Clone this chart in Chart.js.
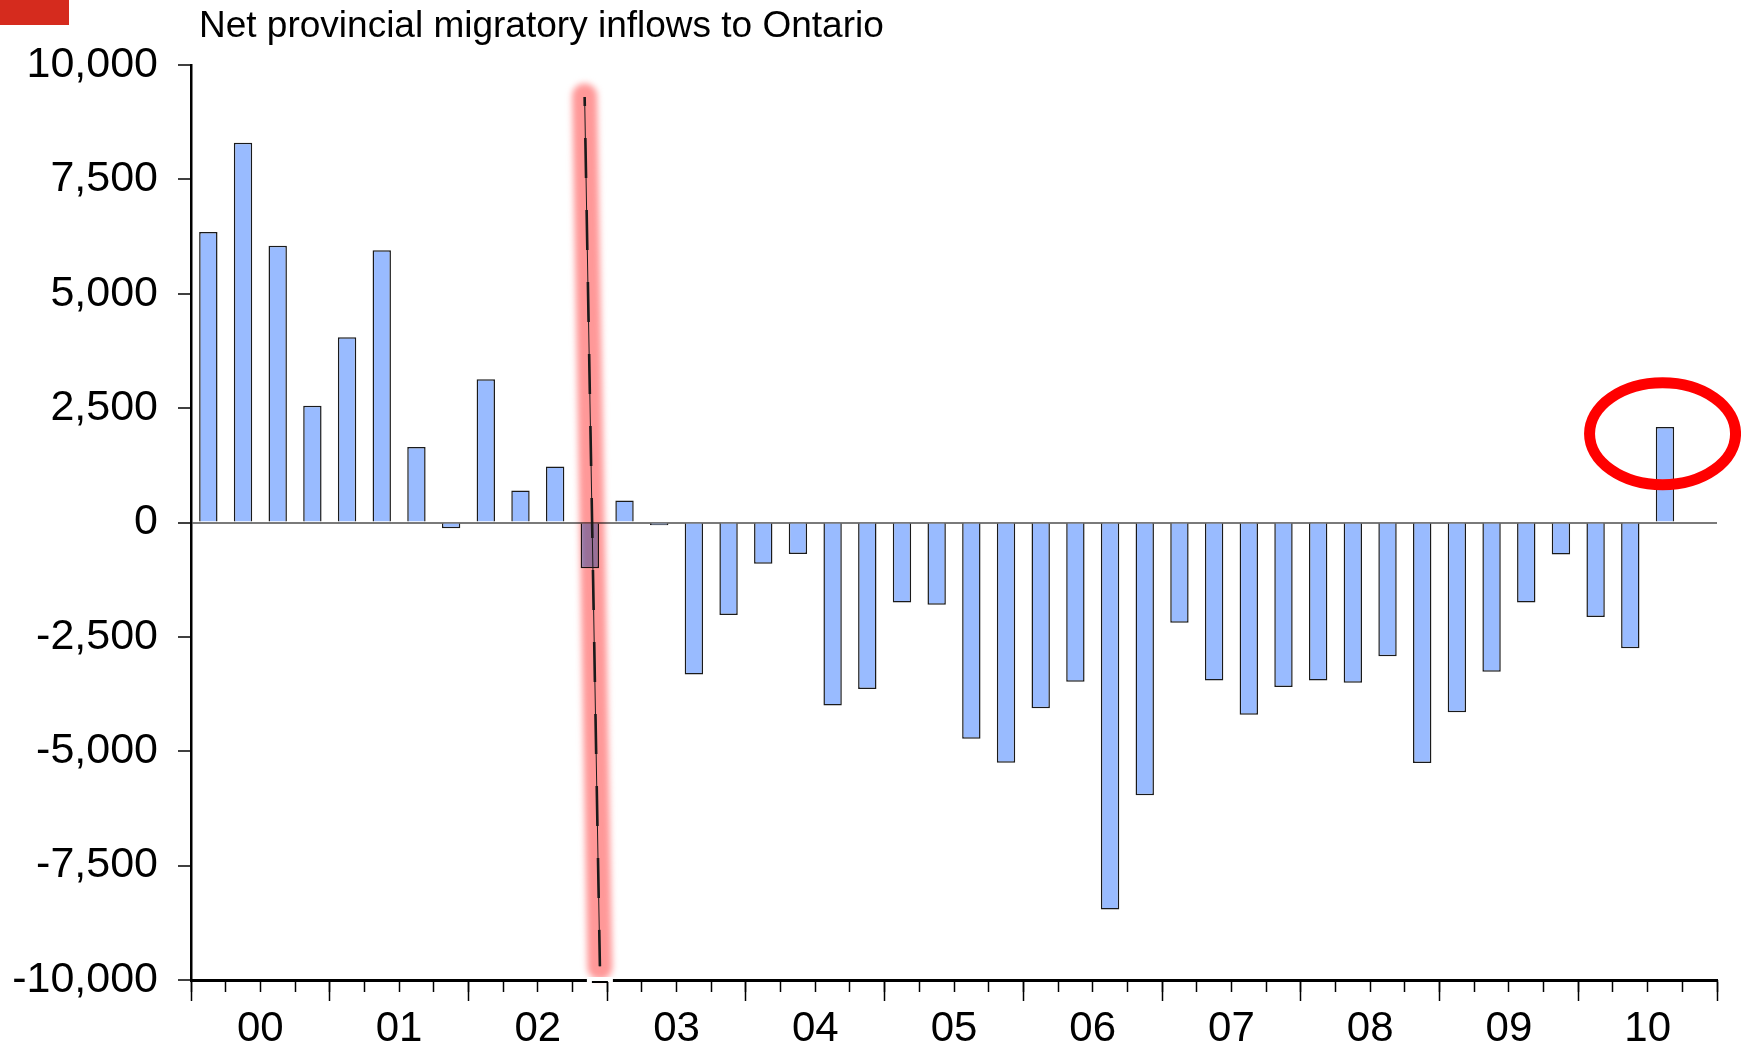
<!DOCTYPE html>
<html>
<head>
<meta charset="utf-8">
<script src="https://cdn.jsdelivr.net/npm/chart.js@4.4.0/dist/chart.umd.min.js"></script>
<style>
  html, body { margin: 0; padding: 0; background: #fff; }
  canvas { display: block; }
</style>
</head>
<body>
<canvas id="chart" width="1741" height="1049"></canvas>
<script>
const chartTitle = 'Net provincial migratory inflows to Ontario';
const years = ['00', '01', '02', '03', '04', '05', '06', '07', '08', '09', '10'];
const quarters = ['Q1', 'Q2', 'Q3', 'Q4'];
const quarterLabels = years.flatMap(y => quarters.map(q => y + q));

// quarterly net inflows, 2000Q1 .. 2010Q4 (last quarter not yet reported)
const netInflows = [
    6350, 8300, 6050, 2550,
    4050, 5950, 1650, -125,
    3130, 700, 1225, -1000,
    480, -60, -3325, -2020,
    -900, -690, -4000, -3640,
    -1750, -1800, -4725, -5250,
    -4060, -3480, -8460, -5960,
    -2190, -3455, -4200, -3595,
    -3455, -3505, -2925, -5255,
    -4150, -3265, -1750, -700,
    -2065, -2750, 2090, null
];

const yTicks = [-10000, -7500, -5000, -2500, 0, 2500, 5000, 7500, 10000];
const yearStarts = [0, 4, 8, 12, 16, 20, 24, 28, 32, 36, 40, 44];
const yearLabelPos = [2, 6, 10, 14, 18, 22, 26, 30, 34, 38, 42];

// hand-drawn marks on the original, in (category index, value)
const markerLineFrom = [10.85, 9300];
const markerLineTo = [11.29, -9700];
const circledPoint = [41.93, 1940];

Chart.defaults.font.family = "'Liberation Sans', Arial, sans-serif";
Chart.defaults.color = '#000';

const annotations = {
    id: 'annotations',
    afterDatasetsDraw(chart) {
        const { ctx, scales } = chart;
        const xs = scales.x, ys = scales.y;
        const x1 = xs.getPixelForValue(markerLineFrom[0]);
        const y1 = ys.getPixelForValue(markerLineFrom[1]);
        const x2 = xs.getPixelForValue(markerLineTo[0]);
        const y2 = ys.getPixelForValue(markerLineTo[1]);

        // red glow
        ctx.save();
        ctx.globalCompositeOperation = 'multiply';
        ctx.filter = 'blur(3px)';
        ctx.strokeStyle = '#ff9898';
        ctx.lineWidth = 25;
        ctx.lineCap = 'round';
        ctx.beginPath();
        ctx.moveTo(x1, y1 - 1);
        ctx.lineTo(x2, y2 + 1);
        ctx.stroke();
        ctx.restore();

        // break in the axis under the glow
        ctx.save();
        ctx.fillStyle = '#fff';
        ctx.fillRect(x2 - 13, chart.chartArea.bottom - 3, 26, 5);
        ctx.fillStyle = '#000';
        ctx.fillRect(x2 - 8, chart.chartArea.bottom + 1, 16, 2);
        ctx.restore();

        // thin line + dashes
        ctx.save();
        ctx.strokeStyle = '#1a1a1a';
        ctx.lineWidth = 1;
        ctx.beginPath();
        ctx.moveTo(x1, y1);
        ctx.lineTo(x2, y2);
        ctx.stroke();
        ctx.lineWidth = 2.6;
        ctx.setLineDash([40, 32]);
        ctx.lineDashOffset = 31;
        ctx.beginPath();
        ctx.moveTo(x1, y1);
        ctx.lineTo(x2, y2);
        ctx.stroke();
        ctx.restore();
    },
    afterDraw(chart) {
        const { ctx, scales } = chart;
        ctx.save();
        ctx.fillStyle = '#d52b1e';
        ctx.fillRect(0, 0, 69, 25);

        ctx.fillStyle = '#000';
        ctx.font = "37px 'Liberation Sans', Arial, sans-serif";
        ctx.textBaseline = 'alphabetic';
        ctx.fillText(chartTitle, 199, 37);

        const cx = scales.x.getPixelForValue(circledPoint[0]);
        const cy = scales.y.getPixelForValue(circledPoint[1]);
        ctx.strokeStyle = '#ff0000';
        ctx.lineWidth = 11;
        ctx.beginPath();
        ctx.ellipse(cx, cy, 73, 51, 0, 0, Math.PI * 2);
        ctx.stroke();
        ctx.restore();
    }
};

new Chart(document.getElementById('chart'), {
    type: 'bar',
    data: {
        labels: quarterLabels,
        datasets: [{
            data: netInflows,
            backgroundColor: '#99bbff',
            borderColor: '#1a1a1a',
            borderWidth: 1.5,
            barPercentage: 0.53,
            categoryPercentage: 1
        }]
    },
    options: {
        responsive: false,
        animation: false,
        devicePixelRatio: 1,
        layout: { padding: { top: 65, right: 24, left: 0, bottom: 0 } },
        plugins: {
            legend: { display: false },
            tooltip: { enabled: false },
            title: { display: false }
        },
        scales: {
            x: {
                type: 'category',
                position: 'bottom',
                offset: true,
                grid: {
                    offset: true,
                    drawOnChartArea: false,
                    tickLength: 12,
                    tickColor: '#000',
                    tickWidth: 1.5
                },
                border: { display: true, color: '#000', width: 3 },
                ticks: { display: false, autoSkip: false, maxRotation: 0 },
                afterFit: s => { s.height = 0; }
            },
            xMajor: {
                type: 'linear',
                position: 'bottom',
                min: 0,
                max: 44,
                offset: false,
                grid: {
                    offset: false,
                    drawOnChartArea: false,
                    tickLength: 21,
                    tickColor: '#000',
                    tickWidth: 1.5
                },
                border: { display: false },
                afterBuildTicks: s => { s.ticks = yearStarts.map(v => ({ value: v })); },
                ticks: { display: false },
                afterFit: s => { s.height = 0; }
            },
            xLabel: {
                type: 'linear',
                position: 'bottom',
                min: 0,
                max: 44,
                offset: false,
                grid: { display: false, drawTicks: false, offset: false },
                border: { display: false },
                afterBuildTicks: s => { s.ticks = yearLabelPos.map(v => ({ value: v })); },
                ticks: {
                    autoSkip: false,
                    maxRotation: 0,
                    padding: 24,
                    font: { size: 42 },
                    callback: v => years[yearLabelPos.indexOf(v)]
                },
                afterFit: s => { s.height = 69; }
            },
            y: {
                min: -10000,
                max: 10000,
                afterBuildTicks: s => { s.ticks = yTicks.map(v => ({ value: v })); },
                grid: {
                    drawOnChartArea: true,
                    color: c => (c.tick && c.tick.value === 0) ? '#7a7a7a' : 'rgba(0,0,0,0)',
                    lineWidth: 2,
                    tickLength: 13,
                    tickColor: '#000',
                    tickWidth: 1.5
                },
                border: { display: true, color: '#000', width: 2.5 },
                ticks: {
                    padding: 20,
                    font: { size: 43 },
                    callback: v => v.toLocaleString('en-US')
                },
                afterFit: s => { s.width = 191; }
            }
        }
    },
    plugins: [annotations]
});
</script>
</body>
</html>
